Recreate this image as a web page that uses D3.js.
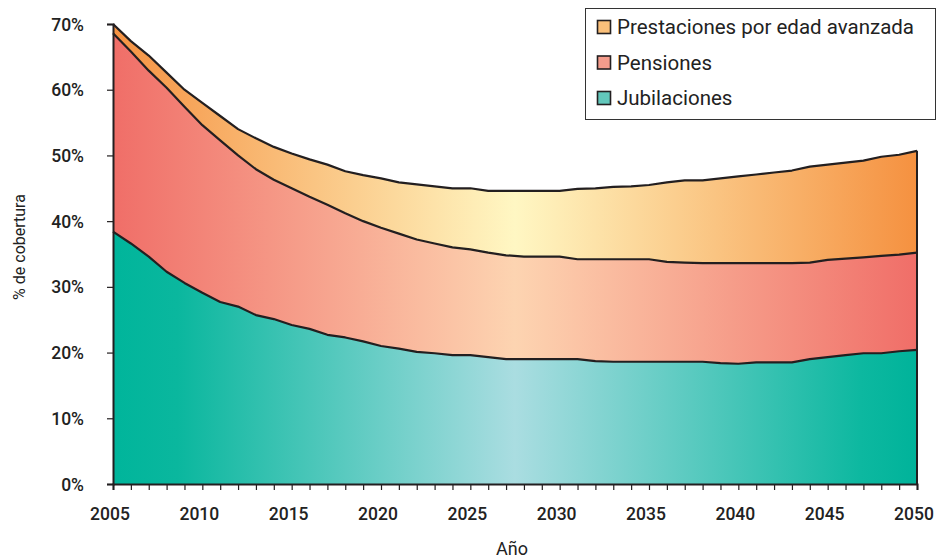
<!DOCTYPE html>
<html><head><meta charset="utf-8">
<script src="https://cdn.jsdelivr.net/npm/d3@7/dist/d3.min.js"></script>
<style>body{margin:0;background:#fff}svg{display:block}text{font-family:Roboto,"DejaVu Sans",sans-serif;fill:#222}</style>
</head><body><svg id="c" width="937" height="560"></svg>
<script>
const years = d3.range(2005, 2051);
const jubilaciones = [38.4,36.6,34.6,32.3,30.6,29.1,27.7,27.0,25.7,25.1,24.2,23.6,22.7,22.3,21.7,21.0,20.6,20.1,19.9,19.6,19.6,19.3,19.0,19.0,19.0,19.0,19.0,18.7,18.6,18.6,18.6,18.6,18.6,18.6,18.4,18.3,18.5,18.5,18.5,19.0,19.3,19.6,19.9,19.9,20.2,20.4];
const pensiones = [30.2,29.2,28.3,28.0,26.8,25.5,24.6,23.0,22.2,21.2,20.8,20.1,19.8,18.9,18.3,18.0,17.5,17.1,16.7,16.4,16.1,15.9,15.8,15.6,15.6,15.6,15.2,15.5,15.6,15.6,15.6,15.2,15.1,15.0,15.2,15.3,15.1,15.1,15.1,14.7,14.8,14.7,14.6,14.8,14.7,14.8];
const prestaciones = [1.4,1.6,2.3,2.3,2.6,3.4,3.7,4.0,4.7,5.0,5.3,5.7,6.1,6.4,7.0,7.5,7.8,8.4,8.7,9.0,9.3,9.4,9.8,10.0,10.0,10.0,10.7,10.8,11.0,11.1,11.3,12.1,12.5,12.6,12.9,13.2,13.5,13.8,14.1,14.6,14.5,14.6,14.7,15.1,15.2,15.5];
const seriesNames = ["Jubilaciones","Pensiones","Prestaciones por edad avanzada"];
const yTicks = [0,10,20,30,40,50,60,70];
const xTickLabels = [2005,2010,2015,2020,2025,2030,2035,2040,2045,2050];

const rows = years.map((y,i)=>({year:y, "Jubilaciones":jubilaciones[i], "Pensiones":pensiones[i], "Prestaciones por edad avanzada":prestaciones[i]}));
const stacked = d3.stack().keys(seriesNames)(rows);

const svg = d3.select("#c");
const x = d3.scaleLinear().domain([2005,2050]).range([113,917]);
const y = d3.scaleLinear().domain([0,70]).range([484,24]);

const defs = svg.append("defs");
const grads = [
  {id:"gJ", stops:[[0,"#00b59b"],[0.08,"#0ab79e"],[0.5,"#aadde1"],[0.93,"#0db8a0"],[1,"#00b39a"]]},
  {id:"gP", stops:[[0,"#f06e68"],[0.5,"#fdd4b1"],[1,"#f06e68"]]},
  {id:"gE", stops:[[0,"#f59242"],[0.5,"#fff7c3"],[1,"#f59140"]]}
];
grads.forEach(g=>{
  const lg = defs.append("linearGradient").attr("id",g.id).attr("gradientUnits","userSpaceOnUse")
    .attr("x1",x(2005)).attr("x2",x(2050)).attr("y1",0).attr("y2",0);
  g.stops.forEach(s=>lg.append("stop").attr("offset",s[0]).attr("stop-color",s[1]));
});
const fills = ["url(#gJ)","url(#gP)","url(#gE)"];

const area = d3.area().x(d=>x(d.data.year)).y0(d=>y(d[0])).y1(d=>y(d[1]));
svg.selectAll("path.a").data(stacked).join("path").attr("class","a")
  .attr("d",area).attr("fill",(d,i)=>fills[i]);

const line = d3.line().x(d=>x(d.data.year)).y(d=>y(d[1]));
svg.selectAll("path.l").data(stacked).join("path").attr("class","l")
  .attr("d",line).attr("fill","none").attr("stroke","#231f20").attr("stroke-width",2.2).attr("stroke-linejoin","round");

// right edge
const last = stacked[2][stacked[2].length-1];
svg.append("line").attr("x1",x(2050)).attr("x2",x(2050)).attr("y1",y(0)).attr("y2",y(last[1]))
  .attr("stroke","#231f20").attr("stroke-width",2);

// axes
const gy = svg.append("g").attr("transform",`translate(${x(2005)},0)`)
  .call(d3.axisLeft(y).tickValues(yTicks).tickFormat(d=>d+"%").tickSize(6).tickPadding(23));
const gx = svg.append("g").attr("transform",`translate(0,${y(0)})`)
  .call(d3.axisBottom(x).tickValues(years).tickFormat(d=>xTickLabels.includes(d)?d:"").tickSize(6).tickPadding(18));
[gy,gx].forEach(g=>{
  g.select(".domain").attr("stroke","#231f20").attr("stroke-width",2);
  g.selectAll(".tick line").attr("stroke","#231f20").attr("stroke-width",1.2);
  g.selectAll("text").attr("font-size",17.5).attr("font-weight",500).attr("fill","#231f20")
   .attr("font-family","Roboto,'DejaVu Sans',sans-serif");
});
gy.selectAll("text").attr("dy","0.35em");
gx.selectAll("text").attr("dx",-3.5);

svg.append("text").attr("x",512).attr("y",555).attr("text-anchor","middle").attr("font-size",18).text("Año");
svg.append("text").attr("transform","translate(25,247) rotate(-90)").attr("text-anchor","middle").attr("font-size",16).text("% de cobertura");

// legend
const lg = svg.append("g");
lg.append("rect").attr("x",585.5).attr("y",8.5).attr("width",350).attr("height",111).attr("fill","#fff").attr("stroke","#333").attr("stroke-width",1);
const legItems = [
  {name:seriesNames[2], c:"#fbc07a"},
  {name:seriesNames[1], c:"#f59c8c"},
  {name:seriesNames[0], c:"#62c7bb"}
];
legItems.forEach((d,i)=>{
  const cy = 27 + i*35.5;
  lg.append("rect").attr("x",597.5).attr("y",cy-6.5).attr("width",13).attr("height",13)
    .attr("fill",d.c).attr("stroke","#231f20").attr("stroke-width",1.6);
  lg.append("text").attr("x",617).attr("y",cy).attr("dy","0.36em").attr("font-size",20.5).text(d.name);
});
</script></body></html>
